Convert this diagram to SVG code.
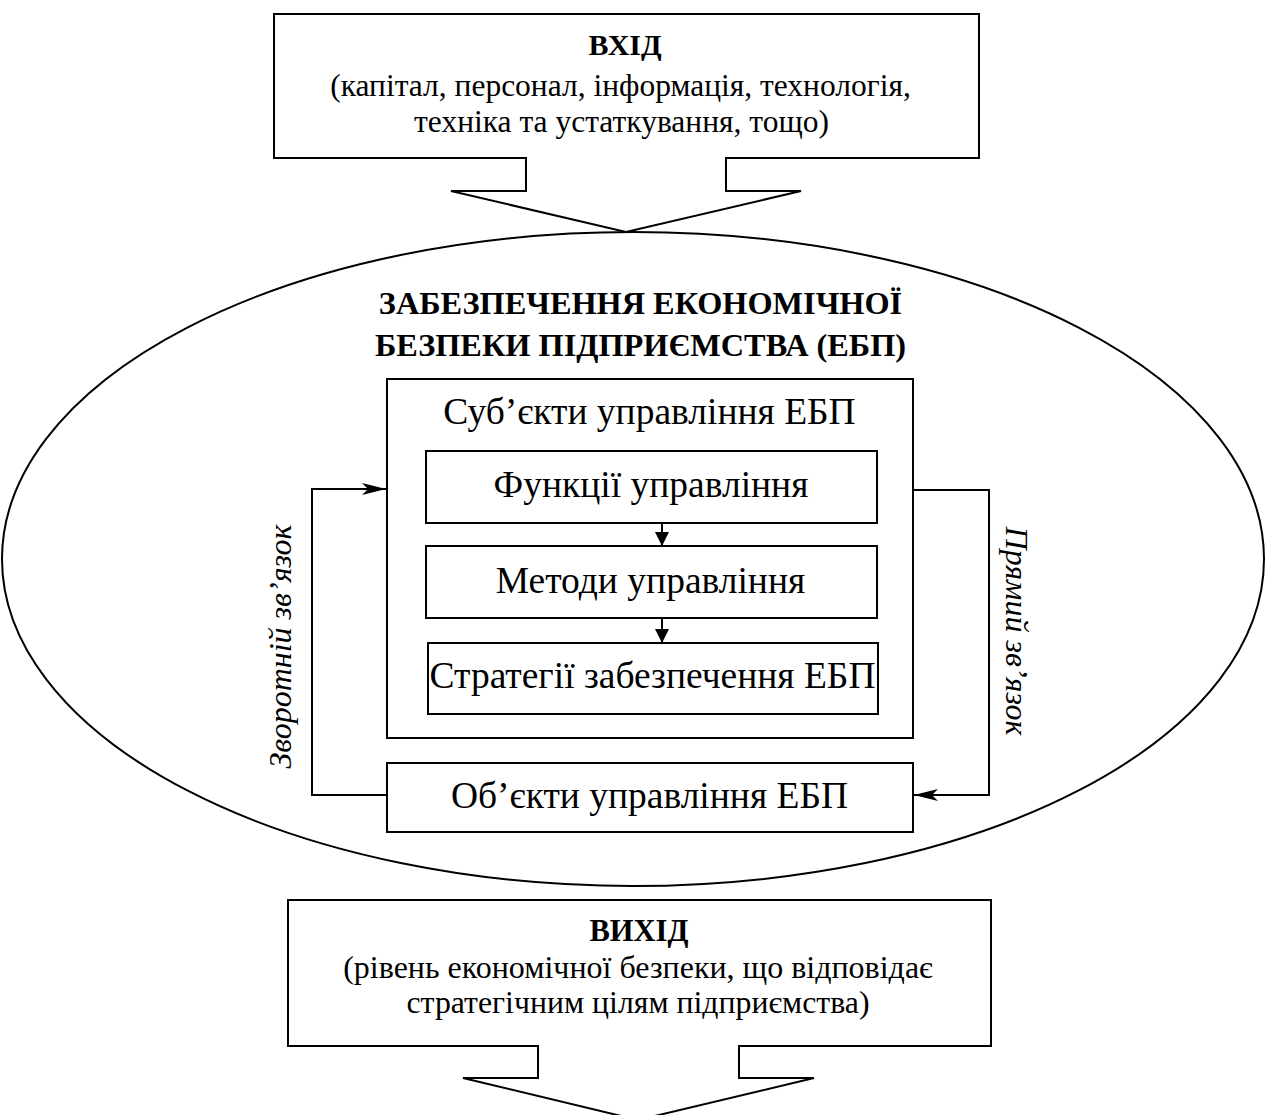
<svg xmlns="http://www.w3.org/2000/svg" width="1266" height="1115" viewBox="0 0 1266 1115">
<style>
.b{fill:#fff;stroke:#000;stroke-width:2}
.l{fill:none;stroke:#000;stroke-width:2}
.t{font-family:"Liberation Serif","Times New Roman",serif;fill:#000;text-anchor:middle}
.h{font-weight:bold}
.i{font-style:italic}
.m{font-size:37.5px}
</style>
<defs>
<marker id="ah" markerWidth="26" markerHeight="14" refX="24" refY="7" orient="auto" markerUnits="userSpaceOnUse">
<path d="M0,1 L24,7 L0,13 L6,7 Z" fill="#000"/>
</marker>
<marker id="as" markerWidth="16" markerHeight="16" refX="8" refY="14" orient="0" markerUnits="userSpaceOnUse">
<path d="M1,0 L15,0 L8,14 Z" fill="#000"/>
</marker>
</defs>
<rect width="1266" height="1115" fill="#fff"/>
<g id="ellipse-node">
<ellipse cx="633" cy="559" rx="631" ry="327" class="l"/>
<text class="t h" x="640.5" y="314" font-size="32.3">ЗАБЕЗПЕЧЕННЯ ЕКОНОМІЧНОЇ</text>
<text class="t h" x="640.5" y="356" font-size="32.3">БЕЗПЕКИ ПІДПРИЄМСТВА (ЕБП)</text>
</g>
<g id="input-node">
<path class="b" d="M274,14 H979 V158 H726 V191 H801 L626,232 L451,191 H526 V158 H274 Z"/>
<text class="t h" x="625" y="55" font-size="30">ВХІД</text>
<text class="t" x="620.5" y="96" font-size="31.5">(капітал, персонал, інформація, технологія,</text>
<text class="t" x="621.5" y="132" font-size="31.5">техніка та устаткування, тощо)</text>
</g>
<g id="subjects-node">
<rect class="b" x="387" y="379" width="526" height="359"/>
<text class="t m" x="649.5" y="424" font-size="38">Суб’єкти управління ЕБП</text>
</g>
<g id="functions-node">
<rect class="b" x="426" y="451" width="451" height="72"/>
<text class="t m" x="651" y="497">Функції управління</text>
</g>
<g id="methods-node">
<rect class="b" x="426" y="546" width="451" height="72"/>
<text class="t m" x="650.5" y="593">Методи управління</text>
</g>
<g id="strategies-node">
<rect class="b" x="428" y="643" width="450" height="71"/>
<text class="t m" x="652.5" y="688">Стратегії забезпечення ЕБП</text>
</g>
<g id="objects-node">
<rect class="b" x="387" y="763" width="526" height="69"/>
<text class="t m" x="649.5" y="808">Об’єкти управління ЕБП</text>
</g>
<g id="output-node">
<path class="b" d="M288,900 H991 V1046 H739 V1078 H814 L638,1120 L463,1078 H538 V1046 H288 Z"/>
<text class="t h" x="639" y="941" font-size="30.5">ВИХІД</text>
<text class="t" x="638" y="978" font-size="32">(рівень економічної безпеки, що відповідає</text>
<text class="t" x="638" y="1013" font-size="31.8">стратегічним цілям підприємства)</text>
</g>
<g id="connectors">
<line class="l" x1="662" y1="523" x2="662" y2="546" marker-end="url(#as)"/>
<line class="l" x1="662" y1="618" x2="662" y2="643" marker-end="url(#as)"/>
<polyline class="l" points="387,795 312,795 312,489 386,489" marker-end="url(#ah)"/>
<polyline class="l" points="913,490 989,490 989,795 914,795" marker-end="url(#ah)"/>
<text class="t i" font-size="32" transform="translate(291,646.5) rotate(-90)">Зворотній зв’язок</text>
<text class="t i" font-size="32" transform="translate(1006,631) rotate(90)">Прямий зв’язок</text>
</g>
</svg>
